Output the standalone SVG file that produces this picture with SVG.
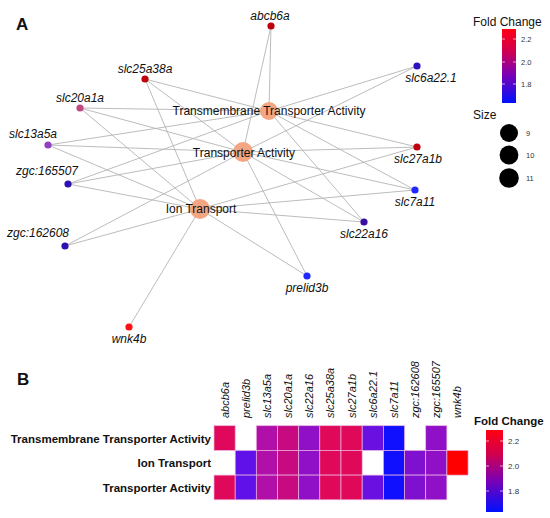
<svg xmlns="http://www.w3.org/2000/svg" width="550" height="518" viewBox="0 0 550 518">
<defs>
<linearGradient id="fc" x1="0" y1="0" x2="0" y2="1">
<stop offset="0" stop-color="#ff0010"/>
<stop offset="0.3" stop-color="#d00050"/>
<stop offset="0.6" stop-color="#8000b0"/>
<stop offset="1" stop-color="#0010ff"/>
</linearGradient>
<style>
.e{stroke:#b4b4b4;stroke-width:0.9;fill:none}
.hub{fill:#f4a582}
.hl{font-family:"Liberation Sans",Arial,sans-serif;font-size:12px;fill:#111;text-anchor:middle}
.gl{font-family:"Liberation Sans",Arial,sans-serif;font-size:12px;font-style:italic;fill:#111;text-anchor:middle}
.pl{font-family:"Liberation Sans",Arial,sans-serif;font-size:17px;font-weight:bold;fill:#111}
.lt{font-family:"Liberation Sans",Arial,sans-serif;font-size:12px;fill:#111}
.tk{font-family:"Liberation Sans",Arial,sans-serif;font-size:7.5px;fill:#333}
.rl{font-family:"Liberation Sans",Arial,sans-serif;font-size:11.5px;font-weight:bold;fill:#111;text-anchor:end}
.cl{font-family:"Liberation Sans",Arial,sans-serif;font-size:11px;font-style:italic;fill:#111}
.t{stroke:#eab4e0;stroke-width:0.7}
</style>
</defs>
<rect width="550" height="518" fill="#ffffff"/>

<text class="pl" x="16" y="30">A</text>

<g id="connectors">
<!-- TTA (269,111) -->
<line class="e" x1="271" y1="26" x2="269" y2="111"/>
<line class="e" x1="145" y1="79" x2="269" y2="111"/>
<line class="e" x1="80" y1="108" x2="269" y2="111"/>
<line class="e" x1="48" y1="145" x2="269" y2="111"/>
<line class="e" x1="68" y1="184" x2="269" y2="111"/>
<line class="e" x1="417" y1="66" x2="269" y2="111"/>
<line class="e" x1="417" y1="147" x2="269" y2="111"/>
<line class="e" x1="415" y1="190" x2="269" y2="111"/>
<line class="e" x1="364" y1="222" x2="269" y2="111"/>
<!-- TA (243,152) -->
<line class="e" x1="271" y1="26" x2="243" y2="152"/>
<line class="e" x1="145" y1="79" x2="243" y2="152"/>
<line class="e" x1="80" y1="108" x2="243" y2="152"/>
<line class="e" x1="48" y1="145" x2="243" y2="152"/>
<line class="e" x1="68" y1="184" x2="243" y2="152"/>
<line class="e" x1="65" y1="246" x2="243" y2="152"/>
<line class="e" x1="417" y1="66" x2="243" y2="152"/>
<line class="e" x1="417" y1="147" x2="243" y2="152"/>
<line class="e" x1="415" y1="190" x2="243" y2="152"/>
<line class="e" x1="364" y1="222" x2="243" y2="152"/>
<line class="e" x1="307" y1="276" x2="243" y2="152"/>
<!-- IT (200,209) -->
<line class="e" x1="145" y1="79" x2="200" y2="209"/>
<line class="e" x1="80" y1="108" x2="200" y2="209"/>
<line class="e" x1="48" y1="145" x2="200" y2="209"/>
<line class="e" x1="68" y1="184" x2="200" y2="209"/>
<line class="e" x1="65" y1="246" x2="200" y2="209"/>
<line class="e" x1="129" y1="327" x2="200" y2="209"/>
<line class="e" x1="307" y1="276" x2="200" y2="209"/>
<line class="e" x1="364" y1="222" x2="200" y2="209"/>
<line class="e" x1="415" y1="190" x2="200" y2="209"/>
<line class="e" x1="417" y1="147" x2="200" y2="209"/>
</g>

<g id="hub-tta"><circle class="hub" cx="269" cy="111" r="9"/><text class="hl" x="269" y="115">Transmembrane Transporter Activity</text></g>
<g id="hub-ta"><circle class="hub" cx="243" cy="152" r="10"/><text class="hl" x="244" y="157">Transporter Activity</text></g>
<g id="hub-it"><circle class="hub" cx="200" cy="209" r="10"/><text class="hl" x="201" y="213">Ion Transport</text></g>

<g id="n-abcb6a"><circle cx="271" cy="26" r="3.6" fill="#c0000c"/><text class="gl" x="270" y="20">abcb6a</text></g>
<g id="n-slc25a38a"><circle cx="145" cy="79" r="3.6" fill="#c0000c"/><text class="gl" x="145" y="73">slc25a38a</text></g>
<g id="n-slc20a1a"><circle cx="80" cy="108" r="3.6" fill="#c04880"/><text class="gl" x="80" y="102">slc20a1a</text></g>
<g id="n-slc13a5a"><circle cx="48" cy="145" r="3.6" fill="#9040c0"/><text class="gl" x="33" y="138">slc13a5a</text></g>
<g id="n-zgc165507"><circle cx="68" cy="184" r="3.6" fill="#3010b0"/><text class="gl" x="47" y="175">zgc:165507</text></g>
<g id="n-zgc162608"><circle cx="65" cy="246" r="3.6" fill="#3010b0"/><text class="gl" x="38" y="237">zgc:162608</text></g>
<g id="n-wnk4b"><circle cx="129" cy="327" r="3.6" fill="#ff1010"/><text class="gl" x="129" y="343">wnk4b</text></g>
<g id="n-prelid3b"><circle cx="307" cy="276" r="3.6" fill="#2028ff"/><text class="gl" x="307" y="292">prelid3b</text></g>
<g id="n-slc22a16"><circle cx="364" cy="222" r="3.6" fill="#3a10a0"/><text class="gl" x="364" y="238">slc22a16</text></g>
<g id="n-slc7a11"><circle cx="415" cy="190" r="3.6" fill="#2028ff"/><text class="gl" x="415" y="206">slc7a11</text></g>
<g id="n-slc27a1b"><circle cx="417" cy="147" r="3.6" fill="#c0000c"/><text class="gl" x="418" y="163">slc27a1b</text></g>
<g id="n-slc6a221"><circle cx="417" cy="66" r="3.6" fill="#3010c0"/><text class="gl" x="431" y="82">slc6a22.1</text></g>

<g id="legend-a">
<text class="lt" x="473" y="26">Fold Change</text>
<rect x="502" y="29" width="14" height="74" fill="url(#fc)"/>
<g stroke="#ffffff" stroke-width="0.8" opacity="0.8">
<line x1="502" y1="39" x2="505" y2="39"/><line x1="513" y1="39" x2="516" y2="39"/>
<line x1="502" y1="62" x2="505" y2="62"/><line x1="513" y1="62" x2="516" y2="62"/>
<line x1="502" y1="84" x2="505" y2="84"/><line x1="513" y1="84" x2="516" y2="84"/>
</g>
<text class="tk" x="521" y="42">2.2</text>
<text class="tk" x="521" y="64.5">2.0</text>
<text class="tk" x="521" y="87">1.8</text>
<text class="lt" x="473" y="119">Size</text>
<circle cx="509" cy="133" r="9" fill="#000"/>
<circle cx="509" cy="155" r="9.4" fill="#000"/>
<circle cx="509" cy="178" r="9.8" fill="#000"/>
<text class="tk" x="526" y="135.5">9</text>
<text class="tk" x="526" y="157.5">10</text>
<text class="tk" x="526" y="180.5">11</text>
</g>

<text class="pl" x="17" y="385">B</text>

<g id="heatmap">
<g id="col-labels">
<text class="cl" transform="translate(228.6,418) rotate(-90)">abcb6a</text>
<text class="cl" transform="translate(249.8,418) rotate(-90)">prelid3b</text>
<text class="cl" transform="translate(270.9,418) rotate(-90)">slc13a5a</text>
<text class="cl" transform="translate(292.1,418) rotate(-90)">slc20a1a</text>
<text class="cl" transform="translate(313.3,418) rotate(-90)">slc22a16</text>
<text class="cl" transform="translate(334.4,418) rotate(-90)">slc25a38a</text>
<text class="cl" transform="translate(355.6,418) rotate(-90)">slc27a1b</text>
<text class="cl" transform="translate(376.8,418) rotate(-90)">slc6a22.1</text>
<text class="cl" transform="translate(397.9,418) rotate(-90)">slc7a11</text>
<text class="cl" transform="translate(419.1,418) rotate(-90)">zgc:162608</text>
<text class="cl" transform="translate(440.3,418) rotate(-90)">zgc:165507</text>
<text class="cl" transform="translate(461.4,418) rotate(-90)">wnk4b</text>
</g>
<g id="row-labels">
<text class="rl" x="211" y="442.5">Transmembrane Transporter Activity</text>
<text class="rl" x="211" y="467">Ion Transport</text>
<text class="rl" x="211" y="491.5">Transporter Activity</text>
</g>
<g id="tiles">
<!-- row 1 TTA y=425.7 -->
<rect class="t" x="214" y="425.7" width="21.17" height="24.7" fill="#e0085a"/>
<rect class="t" x="256.3" y="425.7" width="21.17" height="24.7" fill="#b010a8"/>
<rect class="t" x="277.5" y="425.7" width="21.17" height="24.7" fill="#c80a80"/>
<rect class="t" x="298.7" y="425.7" width="21.17" height="24.7" fill="#9010c8"/>
<rect class="t" x="319.8" y="425.7" width="21.17" height="24.7" fill="#e00858"/>
<rect class="t" x="341" y="425.7" width="21.17" height="24.7" fill="#e00858"/>
<rect class="t" x="362.2" y="425.7" width="21.17" height="24.7" fill="#6a10e0"/>
<rect class="t" x="383.4" y="425.7" width="21.17" height="24.7" fill="#1010ff"/>
<rect class="t" x="425.7" y="425.7" width="21.17" height="24.7" fill="#9010c8"/>
<!-- row 2 IT y=450.4 -->
<rect class="t" x="235.2" y="450.4" width="21.17" height="24.7" fill="#6010e8"/>
<rect class="t" x="256.3" y="450.4" width="21.17" height="24.7" fill="#b010a8"/>
<rect class="t" x="277.5" y="450.4" width="21.17" height="24.7" fill="#c80a80"/>
<rect class="t" x="298.7" y="450.4" width="21.17" height="24.7" fill="#9010c8"/>
<rect class="t" x="319.8" y="450.4" width="21.17" height="24.7" fill="#e00858"/>
<rect class="t" x="341" y="450.4" width="21.17" height="24.7" fill="#e00858"/>
<rect class="t" x="383.4" y="450.4" width="21.17" height="24.7" fill="#1010ff"/>
<rect class="t" x="404.5" y="450.4" width="21.17" height="24.7" fill="#8010d0"/>
<rect class="t" x="425.7" y="450.4" width="21.17" height="24.7" fill="#9010c8"/>
<rect class="t" x="446.9" y="450.4" width="21.17" height="24.7" fill="#ff0000"/>
<!-- row 3 TA y=475.1 -->
<rect class="t" x="214" y="475.1" width="21.17" height="24.7" fill="#e00858"/>
<rect class="t" x="235.2" y="475.1" width="21.17" height="24.7" fill="#6010e8"/>
<rect class="t" x="256.3" y="475.1" width="21.17" height="24.7" fill="#b010a8"/>
<rect class="t" x="277.5" y="475.1" width="21.17" height="24.7" fill="#c80a80"/>
<rect class="t" x="298.7" y="475.1" width="21.17" height="24.7" fill="#9010c8"/>
<rect class="t" x="319.8" y="475.1" width="21.17" height="24.7" fill="#e00858"/>
<rect class="t" x="341" y="475.1" width="21.17" height="24.7" fill="#e00858"/>
<rect class="t" x="362.2" y="475.1" width="21.17" height="24.7" fill="#6a10e0"/>
<rect class="t" x="383.4" y="475.1" width="21.17" height="24.7" fill="#1010ff"/>
<rect class="t" x="404.5" y="475.1" width="21.17" height="24.7" fill="#8010d0"/>
<rect class="t" x="425.7" y="475.1" width="21.17" height="24.7" fill="#9010c8"/>
</g>
</g>

<g id="legend-b">
<text class="lt" x="474" y="425" style="font-weight:bold;font-size:11.5px">Fold Change</text>
<rect x="486" y="430" width="17" height="82" fill="url(#fc)"/>
<g stroke="#ffffff" stroke-width="0.8" opacity="0.8">
<line x1="486" y1="441" x2="489" y2="441"/><line x1="500" y1="441" x2="503" y2="441"/>
<line x1="486" y1="466" x2="489" y2="466"/><line x1="500" y1="466" x2="503" y2="466"/>
<line x1="486" y1="491" x2="489" y2="491"/><line x1="500" y1="491" x2="503" y2="491"/>
</g>
<text class="tk" x="508" y="444" style="font-size:8px">2.2</text>
<text class="tk" x="508" y="469" style="font-size:8px">2.0</text>
<text class="tk" x="508" y="494" style="font-size:8px">1.8</text>
</g>
</svg>
